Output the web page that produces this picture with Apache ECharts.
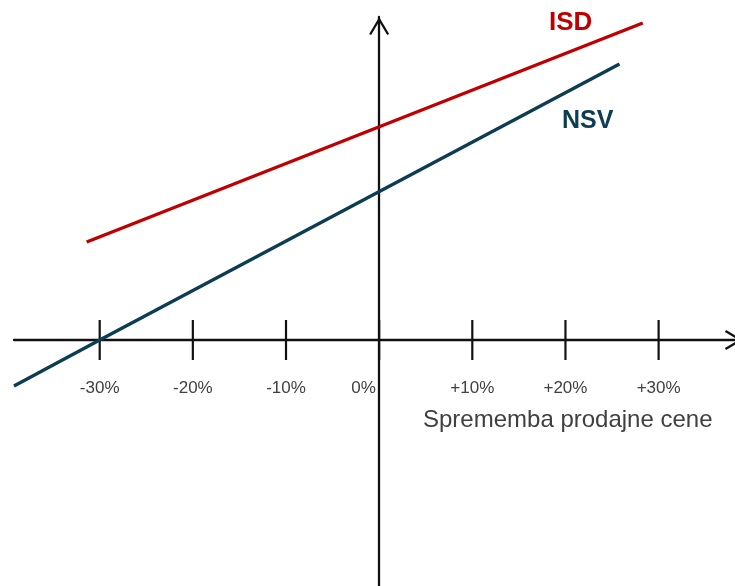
<!DOCTYPE html>
<html>
<head>
<meta charset="utf-8">
<script src="https://cdn.jsdelivr.net/npm/echarts@6/dist/echarts.min.js"></script>
<style>
  html, body { margin: 0; padding: 0; background: #fff; }
  #chart { width: 735px; height: 586px; }
</style>
</head>
<body>
<div id="chart"></div>
<script>
  /** Data */
  var tickValues = [-30, -20, -10, 0, 10, 20, 30];
  var tickLabels = ['-30%', '-20%', '-10%', '0%', '+10%', '+20%', '+30%'];
  // ISD line (x = price change %, y = value)
  var isdX = [-31.4, 28.3];
  var isdY = [9.8, 31.7];
  // NSV line
  var nsvX = [-39.2, -30, 25.8];
  var nsvY = [-4.6, 0, 27.6];

  var axisColor = '#111';
  var textColor = '#404040';
  var font = '"Liberation Sans", Arial, sans-serif';
  // open chevron arrow head, pointing up
  var chevron = 'path://M10 0 L20 17 L18.03 18.16 L10 4.5 L1.97 18.16 L0 17 Z';

  function pairs(xs, ys) {
    return xs.map(function(x, i) { return [x, ys[i]]; });
  }

  var option = {
    animation: false,
    title: [
      { text: 'ISD', left: 549, top: 10, padding: 0,
        textStyle: { color: '#C00000', fontSize: 26, fontWeight: 'bold', fontFamily: font } },
      { text: 'NSV', left: 562, top: 108.5, padding: 0,
        textStyle: { color: '#0D3D52', fontSize: 25, fontWeight: 'bold', fontFamily: font } },
      { text: 'Sprememba prodajne cene', left: 423, top: 408.5, padding: 0,
        textStyle: { color: textColor, fontSize: 24, fontWeight: 'normal', fontFamily: font } }
    ],
    grid: { left: 14, right: 0, top: 17, bottom: 0, containLabel: false, outerBoundsMode: 'none' },
    xAxis: {
      type: 'value',
      min: -39.2,
      max: 38.2,
      axisLine: {
        onZero: true,
        symbol: ['none', chevron],
        symbolSize: [20, 18.16],
        symbolOffset: [0, -1],
        lineStyle: { color: axisColor, width: 2.3 }
      },
      axisTick: { show: false },
      splitLine: { show: false },
      axisLabel: { show: false }
    },
    yAxis: {
      type: 'value',
      min: -24.6,
      max: 32.3,
      axisLine: {
        onZero: true,
        symbol: ['none', chevron],
        symbolSize: [20, 18.16],
        symbolOffset: [0, -9],
        lineStyle: { color: axisColor, width: 2.3 }
      },
      axisTick: { show: false },
      axisLabel: { show: false },
      splitLine: { show: false }
    },
    series: [
      {
        name: 'ticks',
        type: 'scatter',
        silent: true,
        z: 1,
        symbol: 'rect',
        symbolSize: [2.2, 40],
        itemStyle: { color: axisColor, opacity: 1 },
        label: {
          show: true,
          position: 'bottom',
          distance: 20,
          fontSize: 17,
          color: textColor,
          fontFamily: font,
          formatter: function(p) {
            return p.value[0] === 0 ? '{z|' + p.name + '}' : p.name;
          },
          rich: {
            z: { fontSize: 17, color: textColor, fontFamily: font, padding: [0, 31, 0, 0] }
          }
        },
        data: tickValues.map(function(v, i) { return { name: tickLabels[i], value: [v, 0] }; })
      },
      {
        name: 'ISD',
        type: 'line',
        z: 3,
        silent: true,
        showSymbol: false,
        lineStyle: { color: '#C00000', width: 3.4 },
        data: pairs(isdX, isdY)
      },
      {
        name: 'NSV',
        type: 'line',
        z: 3,
        silent: true,
        showSymbol: false,
        lineStyle: { color: '#0D3D52', width: 3.4 },
        data: pairs(nsvX, nsvY)
      }
    ]
  };

  echarts.init(document.getElementById('chart')).setOption(option);
</script>
</body>
</html>
